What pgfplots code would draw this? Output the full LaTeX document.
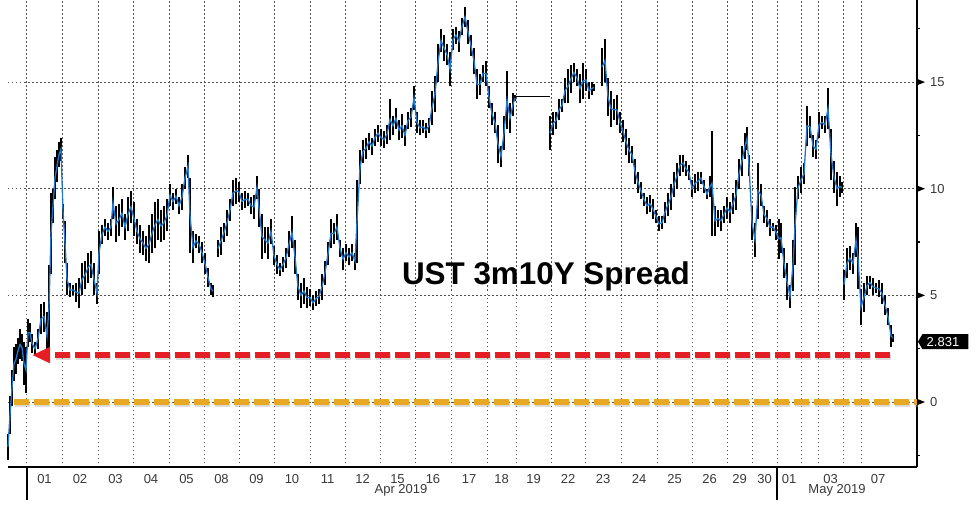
\documentclass[border=0pt]{standalone}
\usepackage{pgfplots}
\usepackage{pgfplotstable}
\pgfplotsset{compat=1.18}
\usetikzlibrary{arrows.meta}
\usepackage{fontspec}
\setmainfont{Liberation Sans}
\definecolor{serblue}{RGB}{35,120,205}
\definecolor{refred}{RGB}{228,30,36}
\definecolor{reforange}{RGB}{232,168,36}
\definecolor{gridgray}{RGB}{80,80,80}

\pgfplotstableread{
x lo hi
8 -2.7 -1.5
10 -1.5 0.3
12 -0.2 1.5
14 1.0 2.6
16 1.3 2.7
18 1.8 3.0
20 2.0 3.4
22 1.9 3.2
24 0.8 2.8
26 0.4 2.6
28 2.6 3.9
30 2.8 3.7
32 2.3 3.2
35 2.2 2.8
38 2.5 3.4
41 3.2 4.6
44 3.3 4.7
47 2.0 4.2
49 2.5 6.4
51 6.0 9.8
53 8.4 10.0
55 9.5 11.5
57 10.3 11.8
59 11.0 12.2
61 11.3 12.4
63 8.6 9.3
65 6.5 8.5
67 5.0 6.5
70 4.9 5.6
73 5.0 5.5
76 4.7 5.6
79 4.4 5.8
82 5.0 6.5
85 5.3 6.6
88 5.6 7.0
91 5.8 7.1
94 5.0 6.5
97 4.6 5.6
99 6.0 8.0
102 7.4 8.3
105 7.8 8.6
108 7.6 8.4
111 7.8 8.6
113 8.6 10.1
116 7.5 9.2
119 7.8 9.3
122 8.2 9.5
125 7.6 8.8
128 8.0 9.6
131 8.4 9.9
134 7.8 9.4
137 7.4 8.6
140 7.0 8.3
143 6.9 8.0
146 6.6 7.8
149 6.5 8.3
152 7.0 8.8
155 7.2 9.4
158 7.6 9.5
161 7.5 9.0
164 7.6 9.2
167 8.0 9.5
170 9.2 10.2
173 9.0 9.8
176 9.3 10.0
179 8.8 9.6
182 9.0 10.2
185 10.0 11.0
188 10.5 11.6
190 7.0 10.5
193 6.5 8.0
196 7.2 7.9
199 7.0 7.8
202 6.5 7.5
205 6.0 7.0
208 5.4 6.3
211 5.0 5.6
213 4.9 5.5
215 nan nan
218 6.8 7.6
221 6.9 8.2
224 7.5 8.4
227 7.8 9.0
230 8.5 9.5
233 9.2 10.4
236 9.3 10.5
239 9.4 10.3
242 9.0 9.8
245 9.1 9.9
248 9.2 9.8
251 8.8 9.6
254 8.6 9.7
257 9.5 10.6
259 8.2 10.0
262 6.7 8.8
265 7.0 8.2
268 6.7 8.2
271 7.4 8.6
274 6.4 7.3
277 6.0 6.9
280 5.9 6.5
283 6.1 6.8
286 6.3 7.2
289 6.8 8.0
292 7.2 8.7
295 6.0 7.6
298 4.8 6.0
301 4.4 5.6
304 4.6 5.8
307 4.4 5.4
310 4.5 5.3
313 4.3 5.0
316 4.5 5.2
319 4.6 5.3
322 4.8 6.0
325 5.5 6.6
328 6.4 7.5
331 7.2 8.6
334 7.4 8.4
337 7.6 8.8
340 6.8 7.6
343 6.2 7.2
346 6.6 7.4
349 6.4 7.2
352 6.6 7.4
355 6.2 7.0
357 6.5 10.4
360 10.2 11.8
363 11.2 12.3
366 11.4 12.4
369 11.8 12.6
372 11.6 12.4
375 12.0 12.8
378 12.2 13.0
381 12.0 12.8
384 11.9 12.7
387 12.1 13.0
390 12.3 14.2
393 12.5 13.4
396 12.8 13.8
399 12.3 13.2
402 12.4 13.5
405 12.0 13.0
408 12.8 13.6
411 12.9 13.8
414 13.7 14.8
417 12.6 13.6
420 12.5 13.2
423 12.6 13.2
426 12.4 13.1
429 12.6 13.3
432 13.0 14.6
435 13.6 15.3
438 15.0 16.8
441 16.4 17.5
444 16.0 17.2
447 15.8 16.8
450 14.8 16.4
453 16.5 17.5
456 16.8 17.6
459 16.4 17.4
462 17.2 18.0
465 17.6 18.5
468 16.8 17.9
471 16.2 17.2
474 15.4 16.6
477 14.2 15.6
480 14.4 15.4
483 15.0 15.8
486 14.8 16.0
489 13.8 14.8
492 13.0 14.0
495 12.6 13.6
498 11.2 13.0
501 11.0 12.0
504 11.8 13.4
507 12.8 15.5
510 12.6 14.0
513 13.4 14.5
515 14.1 14.4
530 nan nan
550 11.8 13.4
553 12.5 13.6
556 12.8 13.6
559 13.2 14.2
562 13.6 14.2
565 14.0 15.2
568 14.0 15.6
571 14.5 15.8
574 15.0 15.9
577 14.8 15.6
580 14.0 15.4
583 14.2 15.9
586 14.6 15.6
589 14.2 15.0
592 14.4 15.0
594 14.6 14.9
597 nan nan
602 14.8 16.6
605 15.0 17.0
608 13.4 15.2
611 12.9 14.6
614 13.2 14.2
617 13.0 14.4
620 12.6 13.6
623 12.2 13.2
626 11.6 12.8
629 11.2 12.4
632 11.2 12.0
635 10.2 11.4
638 9.8 10.8
641 9.5 10.3
644 9.2 9.8
647 8.8 9.6
650 8.9 9.7
653 8.6 9.5
656 8.4 9.0
659 8.0 8.7
662 8.1 8.7
665 8.4 9.4
668 8.7 9.8
671 9.0 10.2
674 9.6 10.8
677 10.0 11.2
680 10.6 11.6
683 10.8 11.6
686 10.6 11.3
689 10.4 11.1
692 9.6 10.4
695 9.8 10.7
698 9.9 10.8
701 10.2 10.8
704 9.8 10.4
707 9.5 10.0
710 9.6 10.6
712 7.8 12.7
715 7.8 9.2
718 8.2 9.0
721 8.0 9.0
724 8.4 9.2
727 8.6 9.6
730 8.4 9.4
733 8.8 9.8
736 9.0 10.4
739 10.0 11.4
742 10.6 12.0
745 11.4 12.6
747 11.8 12.9
749 10.6 11.6
752 7.6 9.2
755 6.8 8.4
758 8.6 11.2
761 9.2 10.2
764 8.4 9.2
767 8.2 9.0
770 7.8 8.6
773 8.0 8.4
776 7.6 8.3
779 6.7 8.6
781 7.0 8.4
784 5.8 7.2
787 4.8 6.5
790 4.4 5.5
793 5.2 7.6
795 6.4 10.1
798 9.5 10.6
801 9.8 11.0
804 10.2 11.2
807 12.0 13.9
810 12.4 13.4
813 11.5 12.5
816 11.4 12.3
819 12.4 13.6
822 12.8 13.4
825 12.6 13.4
828 12.8 14.7
831 10.4 12.8
834 9.8 11.3
837 9.2 10.8
840 9.6 10.6
842 9.8 10.3
843 nan nan
844 4.8 6.2
847 5.8 7.2
850 6.2 7.3
853 6.0 7.0
856 6.8 8.4
858 5.3 8.2
861 3.6 5.3
864 4.2 5.6
867 5.0 5.9
870 5.3 5.9
873 5.0 5.8
876 5.1 5.6
879 4.9 5.7
882 4.6 5.6
885 4.1 5.0
888 3.6 4.4
891 2.6 3.6
893 2.8 3.2
}\spread

\begin{document}
\begin{tikzpicture}
\useasboundingbox (-4pt,-19pt) rectangle (484pt,233.5pt);
\begin{axis}[
  at={(0,0)}, anchor=south west,
  scale only axis, width=454.5pt, height=233.5pt,
  xmin=8, xmax=917, ymin=-3.047, ymax=18.847,
  axis x line*=bottom, axis y line*=right,
  axis line style={black, line width=0.6pt, -},
  xtick={27,62,98,133,169,204,239,274,310,345,380,415,451,487,516,551,585,621,657,692,727,752,777,801,818,843,861},
  xticklabels={},
  xmajorgrids,
  extra x ticks={44.5,80,115.5,151,186.5,221.5,256.5,292,327.5,362.5,397.5,433,469,501.5,533.5,568,603,639,674.5,709.5,739.5,764.5,789,830.5,878},
  extra x tick labels={01,02,03,04,05,08,09,10,11,12,15,16,17,18,19,22,23,24,25,26,29,30,01,03,07},
  extra x tick style={grid=none, major tick length=0pt},
  ytick={0,5,10,15},
  minor ytick={-2.5,2.5,7.5,12.5,17.5},
  ymajorgrids,
  grid style={gridgray, line width=0.5pt, dash pattern=on 0.75pt off 1.25pt},
  major tick length=0pt, minor tick length=1.6pt, tick align=outside,
  tick style={black, line width=0.6pt},
  ticklabel style={font=\fontsize{6.5}{7}\selectfont, text=black!78},
  yticklabel style={anchor=west, xshift=3pt},
  /pgf/number format/assume math mode=true,
  clip=false,
]
% series: high-low bars
\addplot[draw=none, mark=none, forget plot,
  error bars/.cd, y dir=plus, y explicit, error mark=none,
  error bar style={solid, draw=black, line width=0.75pt}]
  table[x=x, y=lo, y error expr=\thisrow{hi}-\thisrow{lo}] {\spread};
% series: blue close path (over the bars)
\addplot[serblue, line width=0.65pt, unbounded coords=jump, forget plot]
  table[x=x, y expr=(\thisrow{lo}+\thisrow{hi})/2] {\spread};
% flat Good Friday segment
\addplot[black, line width=0.5pt, forget plot] coordinates {(515,14.3) (550,14.3)};

% orange zero line with shadow
\addplot[black!35, opacity=0.4, line width=3pt, dash pattern=on 7.5pt off 2.5pt, xshift=0.5pt, yshift=-1.2pt, forget plot]
  coordinates {(14,0) (917,0)};
\addplot[reforange, line width=3pt, dash pattern=on 7.5pt off 2.5pt, forget plot]
  coordinates {(14,0) (917,0)};
% red line with shadow and arrow
\addplot[black!35, opacity=0.4, line width=3pt, dash pattern=on 7.5pt off 2.5pt, xshift=0.5pt, yshift=-1.2pt, forget plot]
  coordinates {(890,2.2) (52,2.2)};
\addplot[refred, line width=3pt, dash pattern=on 7.5pt off 2.5pt, forget plot,
  -{Triangle[width=7.5pt, length=9pt]}]
  coordinates {(890,2.2) (32,2.2)};

% y major tick pennants
\pgfplotsinvokeforeach{0,5,10,15}{
  \fill[black] (axis cs:917,#1) ++(0pt,1.6pt) -- ++(4pt,-1.6pt) -- ++(-4pt,-1.6pt) -- cycle;
}
% month separators
\draw[black, line width=0.6pt] (axis cs:27,-3.047) -- ++(0pt,-16.5pt);
\draw[black, line width=0.6pt] (axis cs:777,-3.047) -- ++(0pt,-16.5pt);
\node[font=\fontsize{6.5}{7}\selectfont, text=black!78] at (axis cs:401,-4.13) {Apr 2019};
\node[font=\fontsize{6.5}{7}\selectfont, text=black!78] at (axis cs:837,-4.13) {May 2019};

% title
\node[anchor=base, font=\fontsize{15.7}{18}\selectfont\bfseries] at (axis cs:546,5.49) {UST 3m10Y Spread};

% last value tag
\fill[black] (axis cs:918,2.83) -- ++(2.2pt,3.75pt) -- ++(23pt,0pt) -- ++(0pt,-7.5pt) -- ++(-23pt,0pt) -- cycle;
\node[font=\fontsize{6.5}{7}\selectfont, text=white] at (axis cs:943,2.83) {2.831};
\end{axis}
\end{tikzpicture}
\end{document}
